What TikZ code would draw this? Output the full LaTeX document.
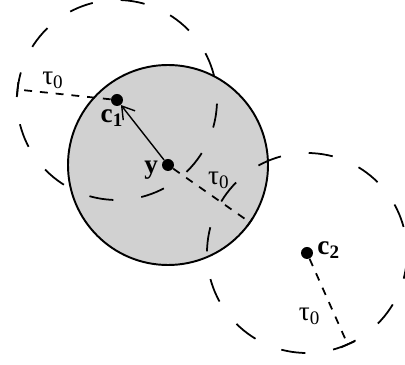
\documentclass[tikz,border=0pt]{standalone}
\usepackage{fontspec}
\setmainfont{Liberation Serif}
\usetikzlibrary{positioning,arrows.meta,calc,backgrounds}
\tikzset{
  figdot/.style={circle, fill=black, inner sep=0pt, minimum size=2.4mm},
  figlabel/.style={font=\fontsize{15.5}{18}\selectfont, inner sep=1pt},
  figball/.style={draw, line width=1.1pt, fill=black!18},
  figrange/.style={line width=1pt, dash pattern=on 13.8pt off 16pt},
  figradius/.style={line width=1pt, dash pattern=on 4.5pt off 4.5pt},
  figtick/.style={line width=1pt},
  figarrow/.style={-{Straight Barb[length=2.4mm,width=3mm]}, line width=0.8pt},
}

\begin{document}
\begin{tikzpicture}
  \useasboundingbox (0,0) rectangle (8.1,7.3);
  \node[figdot] (y) at (3.36,4.00) {};
  \node[figdot] (c1) at (2.34,5.30) {};
  \node[figdot] (c2) at (6.14,2.24) {};
  \node[figlabel, left=0.3mm of y, yshift=-1mm] (ylab) {\textbf{y}};
  \node[figlabel, below=0.2mm of c1, xshift=-1mm] (c1lab) {\textbf{c}\textsubscript{\textbf{1}}};
  \node[figlabel, right=0.4mm of c2, yshift=0.5mm] (c2lab) {\textbf{c}\textsubscript{\textbf{2}}};
  % ends of the radii
  \coordinate (r1) at ($(c1.center)+(174:2)$);
  \coordinate (ry) at ($(y.center)+(-35:2)$);
  \coordinate (r2) at ($(c2.center)+(-66:2)$);
  \begin{scope}[on background layer]
    \draw[figball] (y.center) circle (2);
    \draw[figrange, dash phase=15.9pt] (c1.center) circle (2);
    \draw[figrange, dash phase=14.8pt] (c2.center) circle (2);
    \draw[figradius] (c1) -- (r1) node[figlabel, pos=0.62, above=1pt] (t1) {τ\textsubscript{0}};
    \draw[figradius] (y) -- (ry) node[figlabel, pos=0.42, above right=0pt] (ty) {τ\textsubscript{0}};
    \draw[figradius] (c2) -- (r2) node[figlabel, pos=0.58, left=5pt, yshift=-1.5mm] (t2) {τ\textsubscript{0}};
    % ticks
    \draw[figtick] ($(r1)!1.5mm!90:(c1.center)$) -- ($(r1)!1.5mm!-90:(c1.center)$);
    \draw[figtick] ($(ry)!1mm!90:(y.center)$) -- ($(ry)!1mm!-90:(y.center)$);
    \draw[figtick] ($(r2)!1.5mm!90:(c2.center)$) -- ($(r2)!1.5mm!-90:(c2.center)$);
  \end{scope}
  \draw[figarrow] (y) -- (c1);
\end{tikzpicture}
\end{document}
